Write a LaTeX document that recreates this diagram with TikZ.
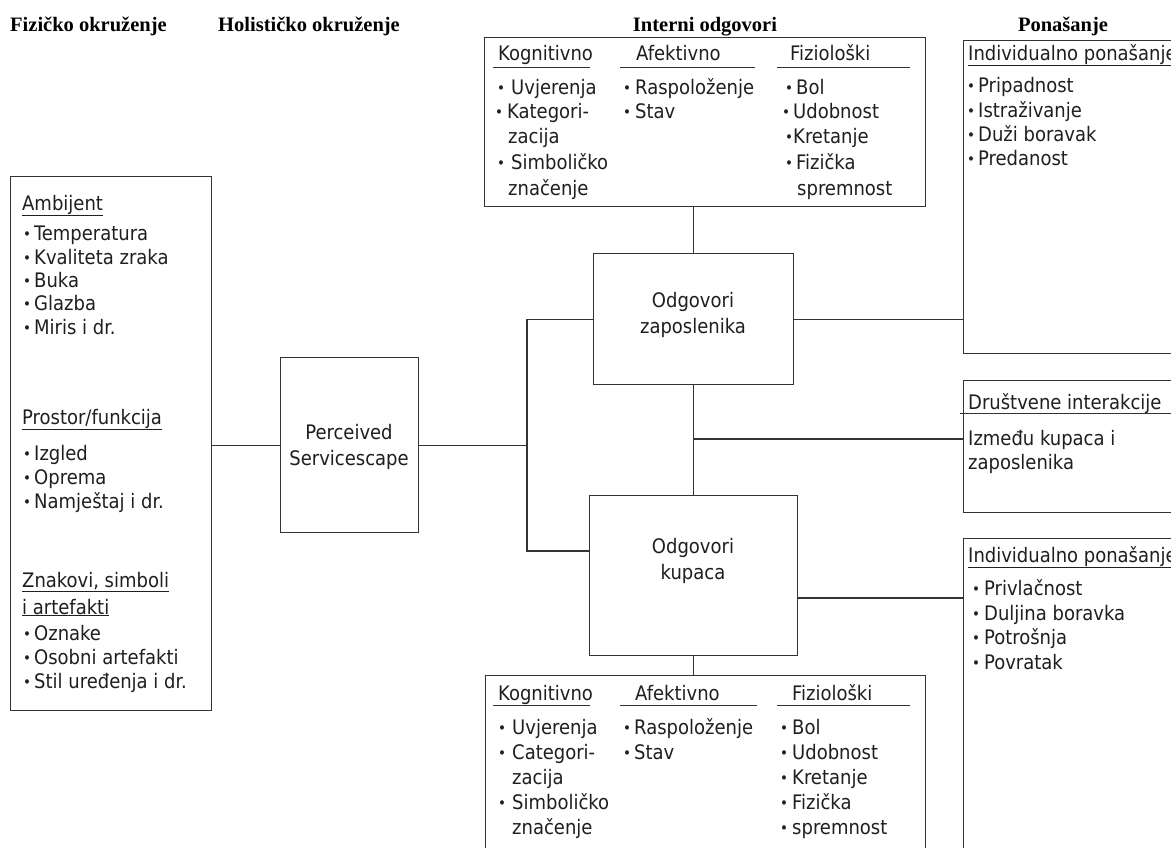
\documentclass[tikz,border=0pt]{standalone}
\usepackage{fontspec}
\setmainfont{DejaVu Sans Condensed}
\newfontfamily\headfont{Liberation Serif}
\newcommand\bul[1][12pt]{\makebox[#1][l]{\raisebox{0.5pt}{\fontsize{15}{15}\selectfont•}}}
\tikzset{
  box/.style={draw=black!80, line width=1.1pt, inner sep=0pt, anchor=north west},
  conn/.style={draw=black!80, line width=1.1pt},
  rulestyle/.style={draw=black!80, line width=1pt},
  txt/.style={anchor=base west, inner sep=0pt, font=\fontsize{20}{24}\selectfont, text=black!88},
  ctext/.style={align=center, inner sep=0pt, font=\fontsize{20}{26}\selectfont, text=black!88},
  head/.style={anchor=base, inner sep=0pt, font=\headfont\bfseries\fontsize{20.5}{24}\selectfont}
}
\begin{document}
\begin{tikzpicture}[x=1pt,y=-1pt]
\useasboundingbox (0,0) rectangle (1171,847);
\clip (0,0) rectangle (1171,847);
\fill[white] (0,0) rectangle (1171,847);

% headings
\node[head, anchor=base west] (hFiz) at (10,31) {Fizičko okruženje};
\node[head, anchor=base west] (hHol) at (218,31) {Holističko okruženje};
\node[head] (hInt) at (705,31) {Interni odgovori};
\node[head] (hPon) at (1063,31) {Ponašanje};

% boxes
\node[box, minimum width=201pt, minimum height=534pt] (phys) at (10,176) {};
\node[box, minimum width=138pt, minimum height=175pt] (perc) at (280,357) {};
\node[box, minimum width=200pt, minimum height=131pt] (zap) at (593,253) {};
\node[box, minimum width=208pt, minimum height=160pt] (kup) at (589,495) {};
\node[box, minimum width=441pt, minimum height=169pt] (top) at (484,37) {};
\node[box, minimum width=440pt, minimum height=200pt] (bot) at (485,675) {};
\node[box, minimum width=260pt, minimum height=313pt] (ind1) at (963,40) {};
\node[box, minimum width=260pt, minimum height=132pt] (soc) at (963,380) {};
\node[box, minimum width=260pt, minimum height=330pt] (ind2) at (963,538) {};

% centre texts
\node[ctext] (percT) at (349,447) {Perceived\\Servicescape};
\node[ctext] (zapT) at (693,315) {Odgovori\\zaposlenika};
\node[ctext] (kupT) at (693,561) {Odgovori\\kupaca};

% connectors
\coordinate (jL) at (527,444);
\draw[conn] (phys.east |- perc.west) -- (perc.west);
\draw[conn] (perc.east) -- (jL |- perc.east);
\path (kup.north west) ++(0,56) coordinate (kupL);
\draw[conn] (zap.west) -- (jL |- zap.west) -- (jL |- kupL) -- (kupL);
\draw[conn] (top.south -| zap.north) -- (zap.north);
\draw[conn] (zap.south) -- (kup.north);
\coordinate (jS) at (693,439);
\draw[conn] (jS) -- (jS -| soc.west);
\draw[conn] (zap.east) -- (zap.east -| ind1.west);
\path (kup.north east) ++(0,103) coordinate (kupR);
\draw[conn] (kupR) -- (kupR -| ind2.west);
\draw[conn] (kup.south) -- (bot.north -| kup.south);

% left box
\node[txt] (ambH) at (22,210) {\underline{Ambijent}};
\foreach \yy/\s [count=\i] in {240/Temperatura, 264/Kvaliteta zraka, 287/Buka, 310/Glazba, 334/Miris i dr.}
  \node[txt] (amb\i) at (23,\yy) {\bul[11pt]\s};
\node[txt] (proH) at (22,424) {\underline{Prostor/funkcija}};
\foreach \yy/\s [count=\i] in {460/Izgled, 484/Oprema, 508/Namještaj i dr.}
  \node[txt] (pro\i) at (23,\yy) {\bul[11pt]\s};
\node[txt] (znH1) at (22,587) {\underline{Znakovi, simboli}};
\node[txt] (znH2) at (22,614) {\underline{i artefakti}};
\foreach \yy/\s [count=\i] in {640/Oznake, 664/Osobni artefakti, 688/Stil uređenja i dr.}
  \node[txt] (zn\i) at (23,\yy) {\bul[11pt]\s};

% top box
\draw[rulestyle] (493,67) -- (590,67);
\draw[rulestyle] (620,67) -- (755,67);
\draw[rulestyle] (777,67) -- (910,67);
\node[txt] (tK) at (498,60) {Kognitivno};
\node[txt] (tA) at (636,60) {Afektivno};
\node[txt] (tF) at (790,60) {Fiziološki};
\node[txt] (tK1) at (497,94) {\bul[14pt]Uvjerenja};
\node[txt] (tK2) at (495,118) {\bul[12pt]Kategori-};
\node[txt] (tK3) at (508,143) {zacija};
\node[txt] (tK4) at (497,169) {\bul[14pt]Simboličko};
\node[txt] (tK5) at (508,195) {značenje};
\node[txt] (tA1) at (623,94) {\bul[12pt]Raspoloženje};
\node[txt] (tA2) at (623,118) {\bul[12pt]Stav};
\node[txt] (tF1) at (785,94) {\bul[11pt]Bol};
\node[txt] (tF2) at (782,118) {\bul[11pt]Udobnost};
\node[txt] (tF3) at (785,143) {\bul[8pt]Kretanje};
\node[txt] (tF4) at (785,169) {\bul[11pt]Fizička};
\node[txt] (tF5) at (797,195) {spremnost};

% bottom box
\draw[rulestyle] (493,705) -- (590,705);
\draw[rulestyle] (620,705) -- (757,705);
\draw[rulestyle] (777,705) -- (910,705);
\node[txt] (bK) at (498,700) {Kognitivno};
\node[txt] (bA) at (635,700) {Afektivno};
\node[txt] (bF) at (792,700) {Fiziološki};
\node[txt] (bK1) at (498,734) {\bul[14pt]Uvjerenja};
\node[txt] (bK2) at (498,759) {\bul[14pt]Categori-};
\node[txt] (bK3) at (512,784) {zacija};
\node[txt] (bK4) at (498,809) {\bul[14pt]Simboličko};
\node[txt] (bK5) at (512,834) {značenje};
\node[txt] (bA1) at (623,734) {\bul[11pt]Raspoloženje};
\node[txt] (bA2) at (623,759) {\bul[11pt]Stav};
\foreach \yy/\s [count=\i] in {734/Bol, 759/Udobnost, 784/Kretanje, 809/Fizička, 834/spremnost}
  \node[txt] (bF\i) at (780,\yy) {\bul[12pt]\s};

% right: individual behaviour 1
\node[txt] (i1H) at (968,60) {\underline{Individualno ponašanje}};
\foreach \yy/\s [count=\i] in {92/Pripadnost, 117/Istraživanje, 141/Duži boravak, 165/Predanost}
  \node[txt] (i1\i) at (967,\yy) {\bul[11pt]\s};

% social interactions
\node[txt] (sH) at (968,409) {Društvene interakcije};
\draw[rulestyle] (960,413) -- (1171,413);
\node[txt] (s1) at (968,445) {Između kupaca i};
\node[txt] (s2) at (968,469) {zaposlenika};

% individual behaviour 2
\node[txt] (i2H) at (968,562) {\underline{Individualno ponašanje}};
\foreach \yy/\s [count=\i] in {595/Privlačnost, 620/Duljina boravka, 644/Potrošnja, 669/Povratak}
  \node[txt] (i2\i) at (972,\yy) {\bul[12pt]\s};
\end{tikzpicture}
\end{document}
